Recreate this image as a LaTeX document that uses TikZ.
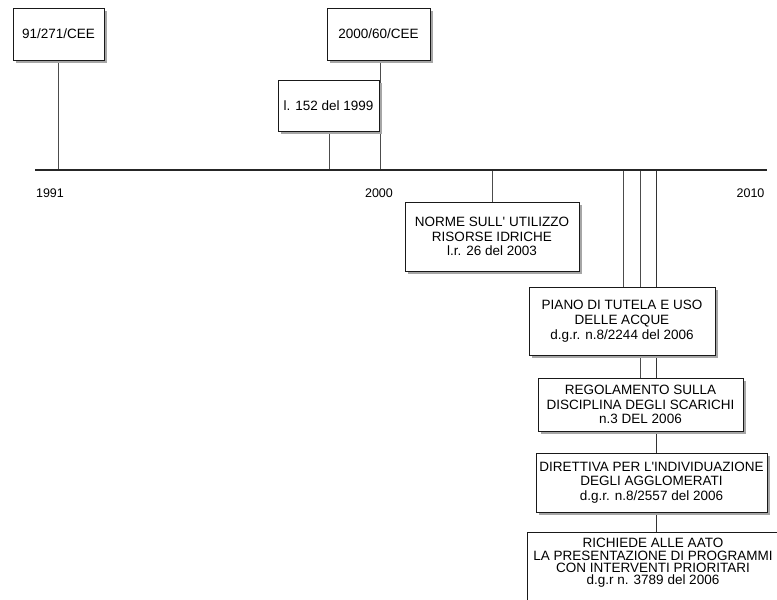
\documentclass[tikz,border=0pt]{standalone}
\usepackage{fontspec}
\setmainfont{Liberation Sans}
\usetikzlibrary{shadows}
\pgfdeclarelayer{bg}
\pgfsetlayers{bg,main}
\begin{document}
\begin{tikzpicture}[x=1pt,y=-1pt,
  box/.style={draw=black!90, line width=0.9pt, fill=white, align=center, inner sep=0pt,
    font=\fontsize{13.5}{14.8}\selectfont,
    drop shadow={shadow xshift=2.5pt, shadow yshift=-3pt, opacity=1, fill=black!35}},
  stem/.style={draw=black!70, line width=0.9pt},
  axisline/.style={draw=black!85, line width=1.6pt},
  yearlbl/.style={font=\fontsize{12.5}{15}\selectfont, inner sep=0pt}]
\clip (0,0) rectangle (777,600);

% boxes
\node[box, minimum width=91pt, minimum height=52pt] (A) at (58.5,34) {91/271/CEE};
\node[box, minimum width=103pt, minimum height=52pt] (B) at (378.5,34) {2000/60/CEE};
\node[box, minimum width=101pt, minimum height=51pt] (C) at (328.5,105.5) {l. 152 del 1999};
\node[box, minimum width=174pt, minimum height=69pt] (D) at (492,236.5)
  {NORME SULL\textquotesingle\ UTILIZZO\\RISORSE IDRICHE\\l.r. 26 del 2003};
\node[box, minimum width=186pt, minimum height=68pt] (E) at (622,321)
  {PIANO DI TUTELA E USO\\DELLE ACQUE\\d.g.r. n.8/2244 del 2006};
\node[box, minimum width=205pt, minimum height=53pt] (F) at (640.5,404.5)
  {REGOLAMENTO SULLA\\DISCIPLINA DEGLI SCARICHI\\n.3 DEL 2006};
\node[box, minimum width=231pt, minimum height=59pt] (G) at (651.5,482.5)
  {DIRETTIVA PER L\textquotesingle INDIVIDUAZIONE\\DEGLI AGGLOMERATI\\d.g.r. n.8/2557 del 2006};
\node[box, anchor=north, minimum width=252pt, inner ysep=6pt, text depth=30pt,
  font=\fontsize{13.5}{12.2}\selectfont] (H) at (653,532)
  {RICHIEDE ALLE AATO\\LA PRESENTAZIONE DI PROGRAMMI\\CON INTERVENTI PRIORITARI\\d.g.r n. 3789 del 2006};

% year labels
\node[yearlbl] (y1991) at (50,193) {1991};
\node[yearlbl] (y2000) at (379,193) {2000};
\node[yearlbl] (y2010) at (750.5,193) {2010};

% axis and stems
\coordinate (axL) at (35,170);
\coordinate (axR) at (767,170);
\coordinate (pA) at (58,170);
\coordinate (pB) at (380,170);
\coordinate (pC) at (329,170);
\coordinate (pD) at (492,170);
\coordinate (pE) at (623,170);
\coordinate (pF) at (640,170);
\coordinate (pG) at (656,170);
\begin{pgfonlayer}{bg}
\fill[white] (0,0) rectangle (777,600);
\draw[stem] (pA) -- (pA |- A.south);
\draw[stem] (pB) -- (pB |- B.south);
\draw[stem] (pC) -- (pC |- C.south);
\draw[stem] (pD) -- (pD |- D.north);
\draw[stem] (pE) -- (pE |- E.north);
\draw[stem] (pF) -- (pF |- F.north);
\draw[stem, draw=black!80, line width=1pt] (pG) -- (pG |- G.north);
\draw[stem, draw=black!80, line width=1pt] (pG |- G.south) -- (pG |- H.north);
\draw[axisline] (axL) -- (axR);
\end{pgfonlayer}
\end{tikzpicture}
\end{document}
